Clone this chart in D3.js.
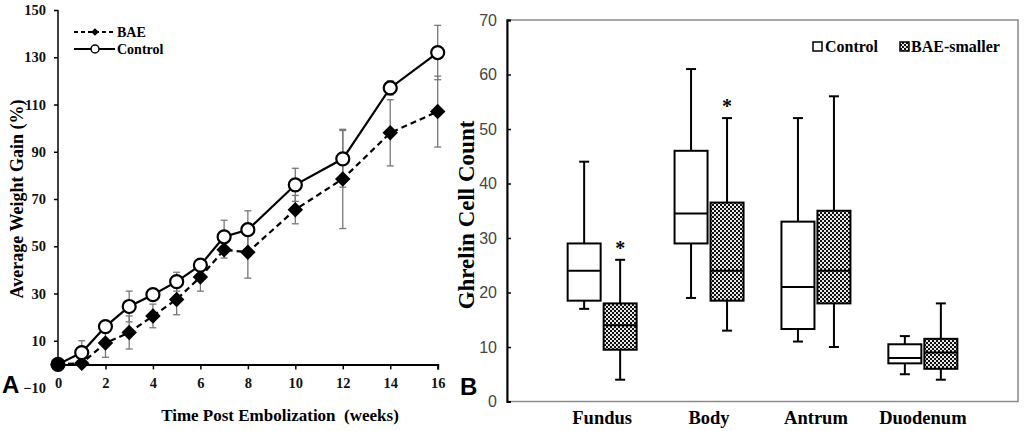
<!DOCTYPE html>
<html><head><meta charset="utf-8">
<script src="https://cdn.jsdelivr.net/npm/d3@7"></script>
<style>body{margin:0;background:#fff}svg{display:block}</style>
</head><body>
<svg id="c" width="1032" height="431"></svg>
<script>
// ---- Panel A data ----
const weeks = [0,1,2,3,4,5,6,7,8,10,12,14,16];
const controlGain = [0,5,16,24.5,29.5,35,42,54,57,76,87,117,132];
const controlErr  = [0,5,2,6.5,2,4,2,7,8,7,12,3,11.5];
const baeGain = [0,0.5,9,13.5,20.5,27.5,37,48.5,47.5,65.5,78.5,98,107];
const baeErr  = [0,0,6,7,5,6.5,6,3.5,11,6,21,14,15];
const yTicksA = [-10,10,30,50,70,90,110,130,150];
const xTicksA = [0,2,4,6,8,10,12,14,16];

// ---- Panel B data ----
const regions = ["Fundus","Body","Antrum","Duodenum"];
// [min, q1, median, q3, max]
const controlBox = [[17,18.5,24,29,44],[19,29,34.5,46,61],[11,13.3,21,33,52],[5,7,8,10.5,12]];
const baeBox     = [[4,9.5,14,18,26],[13,18.5,24,36.5,52],[10,18,24,35,56],[4,6,9,11.5,18]];
const significant = [true,true,false,false];
const yTicksB = [0,10,20,30,40,50,60,70];

const svg = d3.select("#c");
const serif = "'Liberation Serif','Times New Roman',serif";
const sans = "'Liberation Sans',Arial,sans-serif";

// pattern
const defs = svg.append("defs");
const pat = defs.append("pattern").attr("id","chk").attr("patternUnits","userSpaceOnUse")
  .attr("width",4).attr("height",4);
pat.append("rect").attr("width",4).attr("height",4).attr("fill","#e8e8e8");
pat.append("rect").attr("x",0).attr("y",0).attr("width",2).attr("height",2).attr("fill","#111");
pat.append("rect").attr("x",2).attr("y",2).attr("width",2).attr("height",2).attr("fill","#111");

// ================= Panel A =================
const xA = d3.scaleLinear().domain([0,16]).range([58,437.7]);
const yA = d3.scaleLinear().domain([-10,150]).range([388,10]);
const gA = svg.append("g");

// y axis
const yAx = gA.append("g").attr("transform",`translate(${xA(0)},0)`)
  .call(d3.axisLeft(yA).tickValues(yTicksA).tickSize(4).tickPadding(8));
yAx.select(".domain").remove();
yAx.selectAll(".tick").filter(d=>d<0).select("line").remove();
yAx.selectAll("line").attr("stroke","#000").attr("stroke-width",1.5);
yAx.selectAll("text").attr("font-family",serif).attr("font-weight","bold").attr("font-size",14.5).attr("fill","#111");
gA.append("line").attr("x1",xA(0)).attr("x2",xA(0)).attr("y1",yA(150)).attr("y2",yA(0))
  .attr("stroke","#000").attr("stroke-width",1.5);

// x axis
const xAx = gA.append("g").attr("transform",`translate(0,${yA(0)})`)
  .call(d3.axisBottom(xA).tickValues(xTicksA).tickSize(5).tickPadding(8));
xAx.select(".domain").attr("stroke","#000").attr("stroke-width",2);
xAx.selectAll("line").attr("stroke","#000").attr("stroke-width",1.5);
xAx.selectAll("text").attr("font-family",serif).attr("font-weight","bold").attr("font-size",14.5).attr("fill","#111");

// error bars
function errBars(vals, errs){
  weeks.forEach((w,i)=>{
    if(!errs[i]) return;
    const x = xA(w), y1 = yA(vals[i]-errs[i]), y2 = yA(vals[i]+errs[i]);
    gA.append("line").attr("x1",x).attr("x2",x).attr("y1",y1).attr("y2",y2).attr("stroke","#777").attr("stroke-width",1.3);
    [y1,y2].forEach(y=>gA.append("line").attr("x1",x-3.5).attr("x2",x+3.5).attr("y1",y).attr("y2",y).attr("stroke","#777").attr("stroke-width",1.3));
  });
}
errBars(controlGain, controlErr);
errBars(baeGain, baeErr);

const line = (vals)=>d3.line().x((d,i)=>xA(weeks[i])).y(d=>yA(d))(vals);
gA.append("path").attr("d",line(baeGain)).attr("fill","none").attr("stroke","#000").attr("stroke-width",2.2).attr("stroke-dasharray","6,4");
gA.append("path").attr("d",line(controlGain)).attr("fill","none").attr("stroke","#000").attr("stroke-width",2.2);

const sq = d3.symbol().type(d3.symbolSquare);
gA.selectAll(".dia").data(baeGain).enter().append("path")
  .attr("d",sq.size(120)()).attr("transform",(d,i)=>`translate(${xA(weeks[i])},${yA(d)}) rotate(45)`).attr("fill","#000");
gA.selectAll(".cir").data(controlGain).enter().append("circle")
  .attr("cx",(d,i)=>xA(weeks[i])).attr("cy",d=>yA(d)).attr("r",6.5)
  .attr("fill",(d,i)=>i===0?"#000":"#fff").attr("stroke","#000").attr("stroke-width",2.2);

// legend A
const lgA = gA.append("g");
lgA.append("line").attr("x1",74).attr("x2",115).attr("y1",32).attr("y2",32).attr("stroke","#000").attr("stroke-width",2).attr("stroke-dasharray","4,3");
lgA.append("path").attr("d",sq.size(30)()).attr("transform","translate(95,32) rotate(45)");
lgA.append("text").attr("x",117).attr("y",36.5).text("BAE").attr("font-family",serif).attr("font-weight","bold").attr("font-size",14);
lgA.append("line").attr("x1",74).attr("x2",115).attr("y1",49).attr("y2",49).attr("stroke","#000").attr("stroke-width",2);
lgA.append("circle").attr("cx",95).attr("cy",49).attr("r",4).attr("fill","#fff").attr("stroke","#000").attr("stroke-width",1.5);
lgA.append("text").attr("x",117).attr("y",53.5).text("Control").attr("font-family",serif).attr("font-weight","bold").attr("font-size",14);

// titles A
gA.append("text").attr("transform",`translate(23,${yA(70)}) rotate(-90)`).attr("text-anchor","middle")
  .text("Average Weight Gain (%)").attr("font-family",serif).attr("font-weight","bold").attr("font-size",18);
gA.append("text").attr("x",280).attr("y",421).attr("text-anchor","middle").attr("xml:space","preserve")
  .text("Time Post Embolization  (weeks)").attr("font-family",serif).attr("font-weight","bold").attr("font-size",17);
gA.append("text").attr("x",2).attr("y",393).text("A").attr("font-family",sans).attr("font-weight","bold").attr("font-size",24);

// ================= Panel B =================
const x0 = 507, x1 = 1018;
const xB = d3.scalePoint().domain(regions).range([x0,x1]).padding(0.89);
const yB = d3.scaleLinear().domain([0,70]).range([401.5,20]);
const gB = svg.append("g");

gB.append("rect").attr("x",x0).attr("y",yB(70)).attr("width",x1-x0).attr("height",yB(0)-yB(70))
  .attr("fill","none").attr("stroke","#8a8a8a").attr("stroke-width",1.5);
const yBx = gB.append("g").attr("transform",`translate(${x0},0)`)
  .call(d3.axisLeft(yB).tickValues(yTicksB).tickSize(-4).tickPadding(10));
yBx.select(".domain").attr("stroke","#000").attr("stroke-width",2);
yBx.selectAll("line").attr("stroke","#000").attr("stroke-width",1.5);
yBx.selectAll("text").attr("font-family",sans).attr("font-size",16).attr("fill","#444");

const bw = 33, gap = 1.5;
function drawBox(stats, cx, fill){
  const [mn,q1,md,q3,mx] = stats;
  const mid = cx + bw/2;
  const g = gB.append("g").attr("stroke","#000").attr("stroke-width",2);
  g.append("line").attr("x1",mid).attr("x2",mid).attr("y1",yB(q3)).attr("y2",yB(mx));
  g.append("line").attr("x1",mid).attr("x2",mid).attr("y1",yB(q1)).attr("y2",yB(mn));
  g.append("line").attr("x1",mid-5).attr("x2",mid+5).attr("y1",yB(mx)).attr("y2",yB(mx));
  g.append("line").attr("x1",mid-5).attr("x2",mid+5).attr("y1",yB(mn)).attr("y2",yB(mn));
  g.append("rect").attr("x",cx).attr("y",yB(q3)).attr("width",bw).attr("height",yB(q1)-yB(q3)).attr("fill",fill);
  g.append("line").attr("x1",cx).attr("x2",cx+bw).attr("y1",yB(md)).attr("y2",yB(md));
}
regions.forEach((r,i)=>{
  const c = xB(r);
  drawBox(controlBox[i], c-gap-bw, "#fff");
  drawBox(baeBox[i], c+gap, "url(#chk)");
  if(significant[i]){
    gB.append("text").attr("x",c+gap+bw/2).attr("y",yB(baeBox[i][4])-5).attr("text-anchor","middle")
      .text("*").attr("font-family",serif).attr("font-weight","bold").attr("font-size",20);
  }
  gB.append("text").attr("x",c).attr("y",424).attr("text-anchor","middle").text(r)
    .attr("font-family",serif).attr("font-weight","bold").attr("font-size",18.5);
});

// legend B
const lgB = gB.append("g");
lgB.append("rect").attr("x",813).attr("y",42).attr("width",9).attr("height",9).attr("fill","#fff").attr("stroke","#000").attr("stroke-width",1.5);
lgB.append("text").attr("x",825).attr("y",52).text("Control").attr("font-family",serif).attr("font-weight","bold").attr("font-size",16);
lgB.append("rect").attr("x",900).attr("y",42).attr("width",9).attr("height",9).attr("fill","url(#chk)").attr("stroke","#000").attr("stroke-width",1.5);
lgB.append("text").attr("x",911).attr("y",52).text("BAE-smaller").attr("font-family",serif).attr("font-weight","bold").attr("font-size",16);

gB.append("text").attr("transform",`translate(474,215) rotate(-90)`).attr("text-anchor","middle")
  .text("Ghrelin Cell Count").attr("font-family",serif).attr("font-weight","bold").attr("font-size",23);
gB.append("text").attr("x",460).attr("y",395).text("B").attr("font-family",sans).attr("font-weight","bold").attr("font-size",24);
</script>
</body></html>
